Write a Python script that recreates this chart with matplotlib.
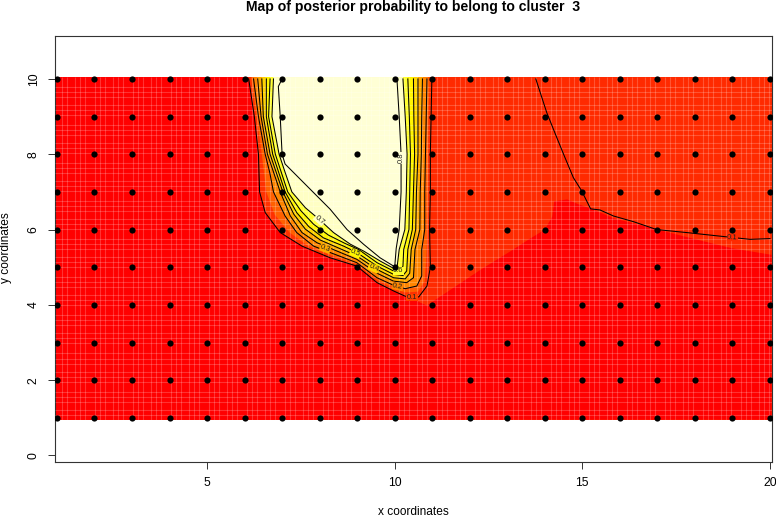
import numpy as np
import matplotlib
matplotlib.use("Agg")
import matplotlib.pyplot as plt

plt.rcParams['font.family'] = ['Liberation Sans', 'DejaVu Sans']

TITLE = "Map of posterior probability to belong to cluster  3"
XLABEL = "x coordinates"
YLABEL = "y coordinates"
x_ticks = [5, 10, 15, 20]
y_ticks = [0, 2, 4, 6, 8, 10]
grid_x = list(range(1, 21))
grid_y = list(range(1, 11))

# Contour lines, from the top left round to the top right
c01 = [(6.11,10),(6.26,9),(6.37,8),(6.40,7),(6.55,6.45),(6.95,5.92),(7.53,5.56),(8.28,5.25),(8.99,5.03),(9.53,4.59),(9.97,4.37),(10.28,4.23),(10.64,4.21),(10.86,4.50),(10.95,5.0),(10.93,6),(10.95,7),(10.95,8),(10.97,9),(10.99,10)]
c015 = [(6.18,10),(6.32,9),(6.46,8),(6.58,7),(6.8,6.4),(7.2,5.92),(7.7,5.56),(8.28,5.32),(8.99,5.08),(9.53,4.66),(9.97,4.45),(10.28,4.33),(10.62,4.35),(10.8,4.63),(10.84,5.2),(10.87,6),(10.88,7),(10.89,8),(10.9,9),(10.93,10)]
c02 = [(6.24,10),(6.37,9),(6.55,8),(6.67,7.52),(6.77,7),(7.08,6.36),(7.39,5.92),(7.84,5.56),(8.28,5.39),(8.99,5.12),(9.53,4.72),(9.97,4.52),(10.28,4.43),(10.59,4.5),(10.72,4.77),(10.72,5.47),(10.8,6),(10.8,7),(10.82,8),(10.84,9),(10.86,10)]
c03 = [(6.35,10),(6.44,9),(6.61,8),(6.95,7),(7.22,6.36),(7.53,5.92),(7.93,5.65),(8.46,5.43),(8.99,5.21),(9.53,4.84),(9.97,4.63),(10.32,4.59),(10.5,4.72),(10.54,5.47),(10.67,6),(10.68,7),(10.71,8),(10.72,9),(10.74,10)]
c04 = [(6.46,10),(6.5,9),(6.68,8),(7.02,7),(7.31,6.41),(7.62,6.01),(8.02,5.72),(8.55,5.49),(8.99,5.3),(9.53,4.94),(9.97,4.72),(10.28,4.69),(10.4,4.84),(10.44,5.47),(10.56,6),(10.58,7),(10.62,8),(10.62,9),(10.62,10)]
c05 = [(6.58,10),(6.58,9),(6.75,8),(7.08,7),(7.39,6.45),(7.71,6.08),(8.1,5.78),(8.64,5.56),(8.99,5.39),(9.53,5.03),(9.97,4.81),(10.22,4.78),(10.32,4.9),(10.35,5.47),(10.47,6),(10.5,7),(10.53,8),(10.51,9),(10.5,10)]
c06 = [(6.68,10),(6.64,9),(6.82,8),(7.15,7),(7.5,6.5),(7.84,6.14),(8.24,5.85),(8.68,5.63),(9.04,5.47),(9.53,5.12),(9.97,4.9),(10.15,4.88),(10.22,5.03),(10.24,5.47),(10.38,6),(10.40,7),(10.42,8),(10.39,9),(10.35,10)]
c07 = [(6.77,10),(6.73,9),(6.92,8),(7.08,7.52),(7.26,7),(7.62,6.58),(8.0,6.26),(8.37,5.92),(8.82,5.61),(9.17,5.43),(9.62,5.16),(9.97,4.97),(10.06,4.97),(10.12,5.47),(10.27,6),(10.31,7),(10.33,8),(10.28,9),(10.22,10)]
c08 = [(7.0,10),(6.9,9.8),(6.95,9),(7.0,8),(7.08,7.74),(7.39,7.43),(7.79,7.03),(8.28,6.54),(8.73,6.0),(9.17,5.61),(9.61,5.25),(9.97,5.03),(10.0,5),(10.04,5.5),(10.12,6),(10.17,7),(10.17,8),(10.12,9),(10.06,10)]
c01_right = [(13.76,10),(14.05,9.11),(14.32,8.44),(14.5,8),(14.76,7.38),(14.98,7.03),(15.22,6.55),(15.47,6.52),(15.83,6.36),(16.36,6.21),(16.98,6),(17.78,5.92),(18.9,5.8),(19.47,5.74),(20,5.76)]

# Edge of the slightly lighter red on the right of the picture
edge_lower = [(10.85,3.98),(11.5,4.41),(12.3,4.94),(13.16,5.47),(13.56,5.73),(14,6),(14.2,6.35),(14.25,6.75),(14.6,6.8),(14.9,6.67),(15.25,6.55),(15.83,6.3),(16.5,6.13),(17.9,5.77),(19,5.5),(20.04,5.33)]

levels = [c01, c02, c03, c04, c05, c06, c07, c08]
fills = [c01, c015, c02, c03, c04, c05, c06, c07, c08]
band_colors = ['#FF3000', '#FF6000', '#FF8500', '#FFAA00', '#FFD400', '#FFF500', '#FFFF30', '#FFFFC4', '#FFFFD5']

# (text, x, y, rotation, background)
labels = [('0.8',10.17,7.9,90,'#FFFFD5'),('0.7',8.0,6.26,-40,'#FFFFC4'),('0.3',8.15,5.50,-20,'#FFAA00'),
          ('0.5',8.95,5.37,-25,'#FFF500'),('0.4',9.44,4.98,-25,'#FFD400'),('0.6',10.1,4.9,0,'#FFFF30'),
          ('0.2',10.08,4.49,-12,'#FF8500'),('0.1',10.46,4.2,0,'#FF4400'),('0.1',19.0,5.79,-3,'#FF2A00')]

# spacing (pixels) of the pale seams of the image
seam_pattern = [5, 5, 8, 5, 5, 10]

fig = plt.figure(figsize=(7.76, 5.18), dpi=100)
ax = fig.add_axes([55/776, (518-462)/518, 716.5/776, 426/518])
ax.set_xlim(0.949, 20.04)
ax.set_ylim(-0.173, 11.14)

x0, x1, y0, y1 = 0.949, 20.04, 0.95, 10.05
ax.fill([x0,x1,x1,x0],[y0,y0,y1,y1], color='#FF2A00', lw=0, zorder=1)
lower = [(x0,y0),(x1,y0)] + edge_lower[::-1] + [(c01[9][0],c01[9][1])]
ax.fill(*zip(*lower), color='#FF0000', lw=0, zorder=1.1)
left = [(x0,y0),(10.85,y0),(10.85,3.98),(10.28,4.23),(9.97,4.37)] + c01[:9][::-1] + [(c01[0][0],y1),(x0,y1)]
ax.fill(*zip(*left), color='#FF0000', lw=0, zorder=1.1)

for i, (c, col) in enumerate(zip(fills, band_colors)):
    xs = [p[0] for p in c]; ys = [p[1] for p in c]
    ax.fill([xs[0]]+xs+[xs[-1]], [y1]+ys+[y1], color=col, lw=0, zorder=2+i*0.01)

seams = np.cumsum(np.tile(seam_pattern, 40)) / 37.53
ax.vlines(1 + seams[seams < 19.04], y0, y1, color='white', alpha=0.2, lw=0.8, zorder=3)
ax.hlines(0.95 + seams[seams < 9.1], x0, x1, color='white', alpha=0.2, lw=0.8, zorder=3)

for c in levels + [c01_right]:
    ax.plot([p[0] for p in c], [p[1] for p in c], color='black', lw=0.75, zorder=4)

for t, x, y, r, bg in labels:
    ax.text(x, y, t, fontsize=5.5, rotation=r, ha='center', va='center', rotation_mode='anchor', zorder=5,
            color='#222222', bbox=dict(facecolor=bg, edgecolor='none', pad=0.2))

gx, gy = np.meshgrid(grid_x, grid_y)
ax.scatter(gx.ravel(), gy.ravel(), s=20, color='black', linewidths=0, zorder=6)

ax.set_xticks(x_ticks)
ax.set_yticks(y_ticks)
ax.tick_params(axis='both', length=5, width=0.7, color='#333333', labelsize=8.7, pad=6)
for lb in ax.get_yticklabels():
    lb.set_rotation(90); lb.set_va('center')
for s in ax.spines.values():
    s.set_linewidth(0.8); s.set_color('#333333')

fig.text(413/776, 1-6.5/518, TITLE, fontsize=10.05, fontweight='bold', ha='center', va='center')
fig.text(413/776, 1-512/518, XLABEL, fontsize=8.6, ha='center', va='center')
fig.text(6/776, 1-248/518, YLABEL, fontsize=8.6, ha='center', va='center', rotation=90)

fig.savefig('out.png', dpi=100)
